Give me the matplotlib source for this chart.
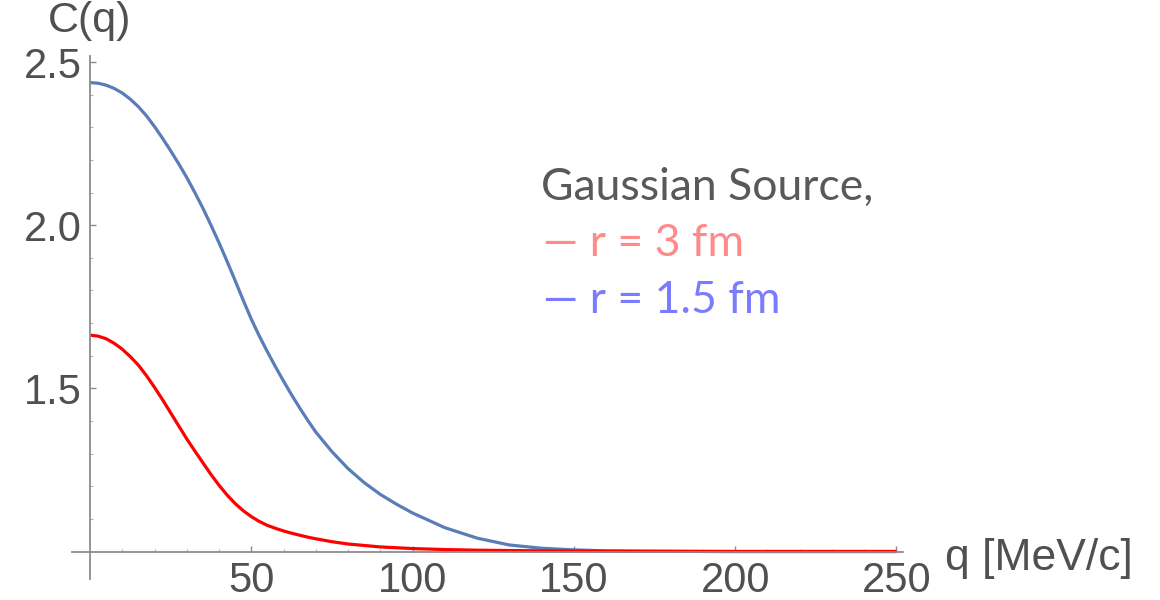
import matplotlib
matplotlib.use("Agg")
import matplotlib.pyplot as plt
from matplotlib.ticker import FixedLocator

# correlation function C(q) for a Gaussian source, two source radii
q_small_r = [0, 2.5, 5, 7.5, 10, 12.5, 15, 17.5, 20, 22.5, 25, 27.5, 30, 32.5, 35,
             37.5, 40, 42.5, 45, 47.5, 50, 52.5, 55, 57.5, 60, 62.5, 65, 67.5, 70,
             75, 80, 90, 100, 110, 120, 140, 160, 200, 250]
c_small_r = [1.663, 1.660, 1.652, 1.638, 1.620, 1.597, 1.571, 1.539, 1.503, 1.465,
             1.425, 1.385, 1.345, 1.308, 1.272, 1.236, 1.203, 1.173, 1.147, 1.125,
             1.107, 1.092, 1.080, 1.071, 1.063, 1.056, 1.050, 1.044, 1.039, 1.030,
             1.023, 1.014, 1.009, 1.006, 1.004, 1.002, 1.001, 1.000, 1.000]

q_large_r = [0, 2.5, 5, 7.5, 10, 12.5, 15, 17.5, 20, 22.5, 25, 27.5, 30, 32.5, 35,
             37.5, 40, 42.5, 45, 47.5, 50, 52.5, 55, 57.5, 60, 62.5, 65, 67.5, 70,
             75, 80, 85, 90, 95, 100, 110, 120, 130, 140, 150, 160, 170, 180, 200,
             250]
c_large_r = [2.437, 2.435, 2.429, 2.419, 2.405, 2.386, 2.363, 2.335, 2.302, 2.266,
             2.228, 2.188, 2.146, 2.100, 2.052, 2.000, 1.946, 1.889, 1.830, 1.770,
             1.712, 1.660, 1.612, 1.566, 1.522, 1.480, 1.440, 1.402, 1.366, 1.306,
             1.254, 1.211, 1.175, 1.145, 1.118, 1.073, 1.041, 1.020, 1.010, 1.005,
             1.002, 1.001, 1.0005, 1.000, 1.000]

x_major = [50, 100, 150, 200, 250]
y_major = [1.5, 2.0, 2.5]
y_major_labels = ["1.5", "2.0", "2.5"]

legend_title = "Gaussian Source,"
legend_red = "\u2014 r = 3 fm"
legend_blue = "\u2014 r = 1.5 fm"

AXIS_GRAY = "#8c8c8c"
TEXT_GRAY = "#505050"

fig = plt.figure(figsize=(11.6, 6.0), dpi=100, facecolor="white")
ax = fig.add_axes([0, 0, 1, 1])
ax.set_xlim(-27.9, 331.7)
ax.set_ylim(0.8514, 2.690)

ax.plot(q_large_r, c_large_r, color="#5a7db8", lw=2.3, solid_capstyle="butt")
ax.plot(q_small_r, c_small_r, color="#ff0000", lw=2.3, solid_capstyle="butt")

# axes cross at (0, 1), drawn as spines
for side in ("top", "right"):
    ax.spines[side].set_visible(False)
ax.spines["left"].set_position(("data", 0))
ax.spines["bottom"].set_position(("data", 1))
ax.spines["left"].set_bounds(0.917, 2.518)
ax.spines["bottom"].set_bounds(-5.5, 252)
for side in ("left", "bottom"):
    ax.spines[side].set_color(AXIS_GRAY)
    ax.spines[side].set_linewidth(1.3)

ax.xaxis.set_major_locator(FixedLocator(x_major))
ax.xaxis.set_minor_locator(FixedLocator([v for v in range(10, 251, 10) if v % 50]))
ax.yaxis.set_major_locator(FixedLocator(y_major))
ax.yaxis.set_minor_locator(FixedLocator([round(1.1 + 0.1 * i, 1) for i in range(15)
                                         if round(1.1 + 0.1 * i, 1) not in y_major]))
ax.set_yticklabels(y_major_labels)

label_font = {"family": "Liberation Sans", "size": 31}
ax.tick_params(which="major", direction="in", length=4, width=1.0, color=AXIS_GRAY,
               labelcolor=TEXT_GRAY, labelsize=30)
ax.tick_params(which="minor", direction="in", length=2.5, width=0.8, color="#b5b5b5")
ax.tick_params(axis="x", which="major", pad=7)
ax.tick_params(axis="y", which="major", pad=6)
for lab in ax.get_xticklabels() + ax.get_yticklabels():
    lab.set_family("Liberation Sans")

ax.text(0, 2.565, "C(q)", ha="center", va="bottom", color=TEXT_GRAY,
        fontdict=label_font)
ax.text(265, 0.98, "q [MeV/c]", ha="left", va="center", color=TEXT_GRAY,
        family="Liberation Sans", fontsize=32)

# legend written as coloured text lines
ax.text(139.8, 2.077, legend_title, ha="left", va="baseline", color="#595959",
        family="Lato", fontsize=32)
ax.text(140.3, 1.906, legend_red, ha="left", va="baseline", color="#ff8a8a",
        family="Lato", fontsize=32)
ax.text(140.3, 1.731, legend_blue, ha="left", va="baseline", color="#7b7bff",
        family="Lato", fontsize=32)

fig.savefig("out.png", dpi=100, facecolor="white")
